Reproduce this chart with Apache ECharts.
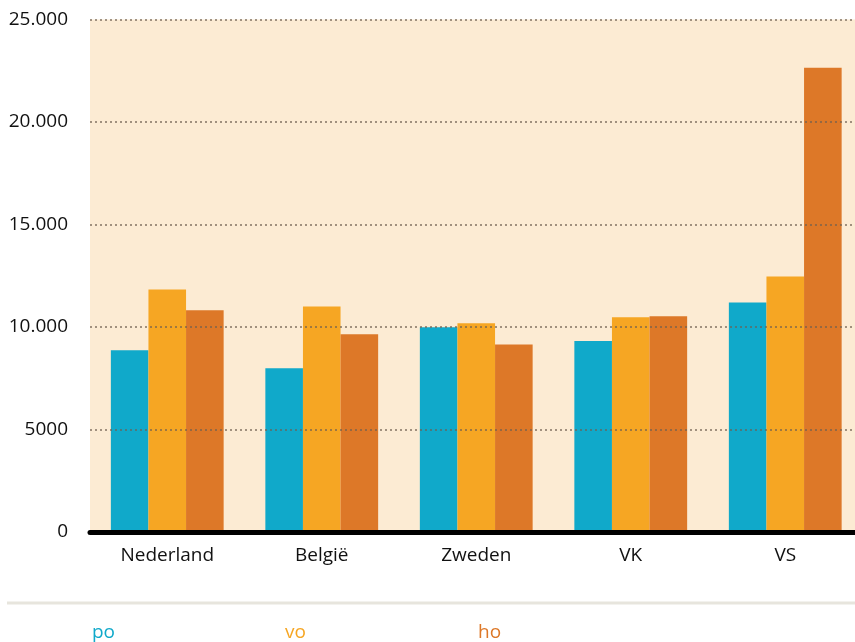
<!DOCTYPE html>
<html>
<head>
<meta charset="utf-8">
<script src="https://cdn.jsdelivr.net/npm/echarts@6/dist/echarts.min.js"></script>
<style>
  html, body { margin: 0; padding: 0; background: #fff; overflow: hidden; }
  #main { width: 864px; height: 642px; }
</style>
</head>
<body>
<div id="main"></div>
<script>
var landen = ['Nederland', 'België', 'Zweden', 'VK', 'VS'];
var po = [8870, 7990, 9990, 9320, 11200];
var vo = [11830, 11000, 10180, 10470, 12460];
var ho = [10820, 9650, 9150, 10520, 22650];
var reeksNamen = ['po', 'vo', 'ho'];
var kleuren = ['#10A9CA', '#F6A623', '#DD7828'];

var lettertype = '"Open Sans", "Noto Sans", sans-serif';

function formatGetal(v) {
	if (v >= 10000) {
		return String(v).replace(/(\d+)(\d{3})$/, '$1.$2');
	}
	return String(v);
}

function legendaItem(naam, links, kleur) {
	return {
		data: [naam],
		left: links,
		top: 618,
		icon: 'rect',
		itemWidth: 0,
		itemHeight: 0,
		selectedMode: false,
		textStyle: { color: kleur, fontSize: 19, fontFamily: lettertype, padding: [0, 0, 0, -5] }
	};
}

var optie = {
	animation: false,
	color: kleuren,
	grid: {
		left: 90,
		right: 1.5,
		top: 19.5,
		bottom: 110,
		show: true,
		backgroundColor: '#FCEBD3',
		borderWidth: 0
	},
	legend: [
		legendaItem('po', 87, kleuren[0]),
		legendaItem('vo', 280, kleuren[1]),
		legendaItem('ho', 473, kleuren[2])
	],
	xAxis: {
		type: 'category',
		data: landen,
		z: 8,
		axisTick: { show: false },
		axisLine: { lineStyle: { color: '#000', width: 5 } },
		axisLabel: { color: '#111', fontSize: 19, fontFamily: lettertype, margin: 14 }
	},
	yAxis: {
		type: 'value',
		min: 0,
		max: 25000,
		interval: 5000,
		z: 5,
		axisLine: { show: false },
		axisTick: { show: false },
		axisLabel: {
			color: '#111', fontSize: 19, fontFamily: lettertype, margin: 22,
			formatter: formatGetal
		},
		splitLine: {
			lineStyle: { color: 'rgba(110, 95, 80, 0.65)', width: 2, type: [2, 3] }
		}
	},
	graphic: [{
		type: 'line',
		shape: { x1: 7, y1: 603, x2: 864, y2: 603 },
		style: { stroke: '#E7E5DD', lineWidth: 3 }
	}],
	series: [
		{ name: reeksNamen[0], type: 'bar', data: po, barGap: '0%', barCategoryGap: '27%' },
		{ name: reeksNamen[1], type: 'bar', data: vo, barGap: '0%', barCategoryGap: '27%' },
		{ name: reeksNamen[2], type: 'bar', data: ho, barGap: '0%', barCategoryGap: '27%' }
	]
};

var grafiek = echarts.init(document.getElementById('main'));
grafiek.setOption(optie);
</script>
</body>
</html>
